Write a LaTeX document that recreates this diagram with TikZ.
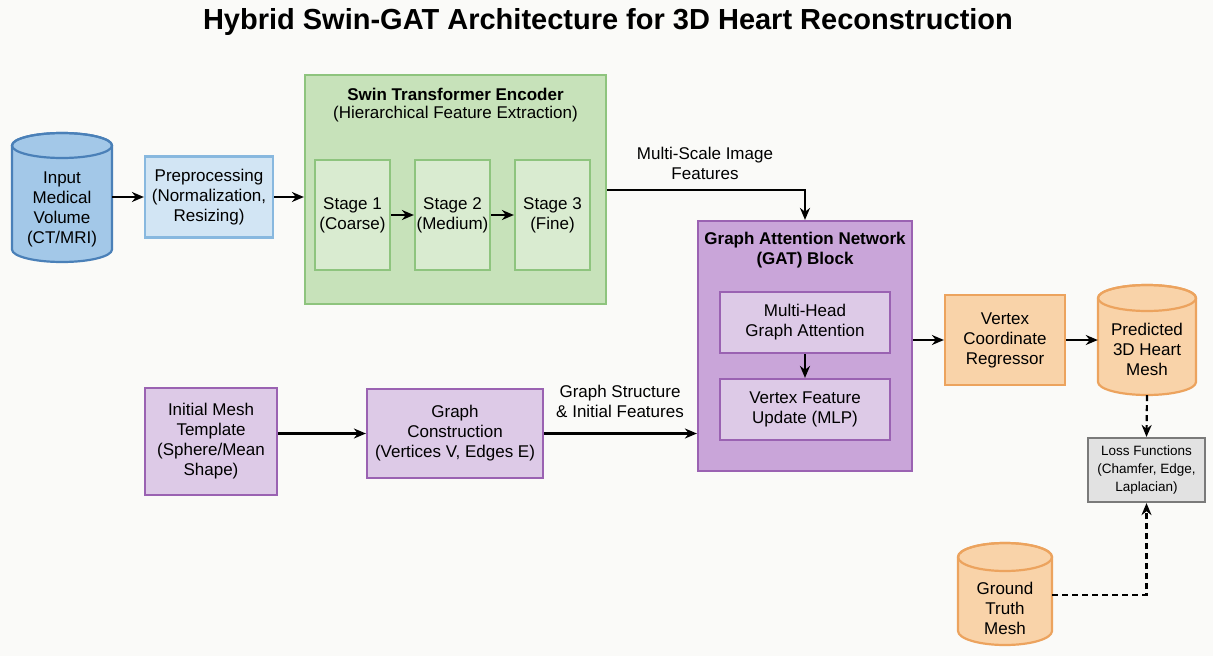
\documentclass[tikz,border=0pt]{standalone}
\usepackage{fontspec}
\setmainfont{Liberation Sans}
\usetikzlibrary{arrows.meta}
\definecolor{bgc}{HTML}{FAFAF8}
\definecolor{bluefill}{HTML}{A3C8E8}
\definecolor{bluedraw}{HTML}{4A80B8}
\definecolor{lbluefill}{HTML}{D2E5F4}
\definecolor{lbluedraw}{HTML}{88B8DF}
\definecolor{greenfill}{HTML}{C7E2BA}
\definecolor{greendraw}{HTML}{8EC47E}
\definecolor{lgreenfill}{HTML}{D9EBD0}
\definecolor{purplefill}{HTML}{C9A5D9}
\definecolor{purpledraw}{HTML}{9A62B2}
\definecolor{lpurplefill}{HTML}{DDCAE7}
\definecolor{orangefill}{HTML}{F9D3A9}
\definecolor{orangedraw}{HTML}{ECA35E}
\definecolor{grayfill}{HTML}{E2E2E2}
\definecolor{graydraw}{HTML}{7A7A7A}
\newcommand{\hcyl}[7]{%
  \filldraw[fill=#1, draw=#2, line width=2.2pt] (#3-#6, #4+#7) -- (#3-#6, #5-#7)
    arc[start angle=180, end angle=360, x radius=#6pt, y radius=#7pt] -- (#3+#6, #4+#7)
    arc[start angle=0, end angle=180, x radius=#6pt, y radius=#7pt] -- cycle;
  \draw[draw=#2, line width=2.2pt] (#3, #4+#7) ellipse [x radius=#6pt, y radius=#7pt];}
\begin{document}
\begin{tikzpicture}[x=1pt, y=-1pt,
  txt/.style={align=center, inner sep=0pt, font=\fontsize{17}{20}\selectfont},
  box/.style={txt, draw, line width=2.2pt},
  bluebox/.style={box, fill=lbluefill, draw=lbluedraw},
  greenbox/.style={box, fill=greenfill, draw=greendraw},
  stagebox/.style={box, fill=lgreenfill, draw=greendraw},
  gatbox/.style={box, fill=purplefill, draw=purpledraw},
  purplebox/.style={box, fill=lpurplefill, draw=purpledraw},
  orangebox/.style={box, fill=orangefill, draw=orangedraw},
  graybox/.style={box, fill=grayfill, draw=graydraw, font=\fontsize{13.5}{18}\selectfont},
  arr/.style={-{Stealth[length=12pt, width=10pt]}, line width=2.2pt, black},
  dasharr/.style={arr, dash pattern=on 6pt off 4pt}]
\path[use as bounding box, fill=bgc] (0,0) rectangle (1213,656);

\node[font=\fontsize{29}{33}\selectfont\bfseries] (title) at (608,22) {Hybrid Swin-GAT Architecture for 3D Heart Reconstruction};

% input cylinder
\hcyl{bluefill}{bluedraw}{62}{133}{262}{50}{12.5}
\node[txt, minimum width=100pt, minimum height=105pt] (input) at (62,209.5) {Input\\Medical\\Volume\\(CT/MRI)};

\node[bluebox, minimum width=128pt, minimum height=81pt] (pre) at (209,197) {Preprocessing\\(Normalization,\\Resizing)};

% swin encoder
\node[greenbox, minimum width=301pt, minimum height=229pt] (swin) at (455.5,189.5) {};
\node[txt, font=\fontsize{17}{20}\selectfont\bfseries] (swint) at (455.5,94) {Swin Transformer Encoder};
\node[txt] (swins) at (455.5,114) {(Hierarchical Feature Extraction)};
\node[stagebox, minimum width=75pt, minimum height=110pt] (s1) at (352.5,215) {Stage 1\\(Coarse)};
\node[stagebox, minimum width=75pt, minimum height=110pt] (s2) at (452.5,215) {Stage 2\\(Medium)};
\node[stagebox, minimum width=75pt, minimum height=110pt] (s3) at (552.5,215) {Stage 3\\(Fine)};

% GAT block
\node[gatbox, minimum width=214pt, minimum height=250pt] (gat) at (805,346) {};
\node[txt, font=\fontsize{17}{20}\selectfont\bfseries] (gatt) at (805,250) {Graph Attention Network\\(GAT) Block};
\node[purplebox, minimum width=170pt, minimum height=61pt] (mh) at (805,322.5) {Multi-Head\\Graph Attention};
\node[purplebox, minimum width=170pt, minimum height=61pt] (vf) at (805,409.5) {Vertex Feature\\Update (MLP)};

% lower row
\node[purplebox, minimum width=132pt, minimum height=107pt] (init) at (211,441.5) {Initial Mesh\\Template\\(Sphere/Mean\\Shape)};
\node[purplebox, minimum width=176pt, minimum height=89pt] (gc) at (455,433.5) {Graph\\Construction\\(Vertices V, Edges E)};

% output
\node[orangebox, minimum width=120pt, minimum height=90pt] (vcr) at (1005,340) {Vertex\\Coordinate\\Regressor};
\hcyl{orangefill}{orangedraw}{1147}{285}{395}{49}{13}
\node[txt, minimum width=98pt, minimum height=92pt] (pred) at (1147,349) {Predicted\\3D Heart\\Mesh};
\node[graybox, minimum width=117pt, minimum height=64pt] (loss) at (1146.5,470) {Loss Functions\\(Chamfer, Edge,\\Laplacian)};
\hcyl{orangefill}{orangedraw}{1005}{543}{645}{47}{14}
\node[txt, minimum width=94pt, minimum height=74pt] (gt) at (1005,608) {Ground\\Truth\\Mesh};

% connectors
\draw[arr] (input.east |- pre.west) -- (pre.west);
\draw[arr] (pre.east) -- (swin.west |- pre.east);
\draw[arr] (s1.east) -- (s2.west);
\draw[arr] (s2.east) -- (s3.west);
\draw[arr] (swin.east |- 0,190) -| (gat.north);
\node[txt] (msl) at (705,163) {Multi-Scale Image\\Features};
\draw[arr] (mh.south) -- (vf.north);
\draw[arr] (init.east |- gc.west) -- (gc.west);
\draw[arr] (gc.east) -- (gat.west |- gc.east);
\node[txt] (gsl) at (620,401) {Graph Structure\\\& Initial Features};
\draw[arr] (gat.east |- vcr.west) -- (vcr.west);
\draw[arr] (vcr.east) -- (vcr.east -| pred.west);
\draw[dasharr] (pred.south) -- (loss.north);
\draw[dasharr] ([yshift=13pt]gt.east) -| (loss.south);
\end{tikzpicture}
\end{document}
